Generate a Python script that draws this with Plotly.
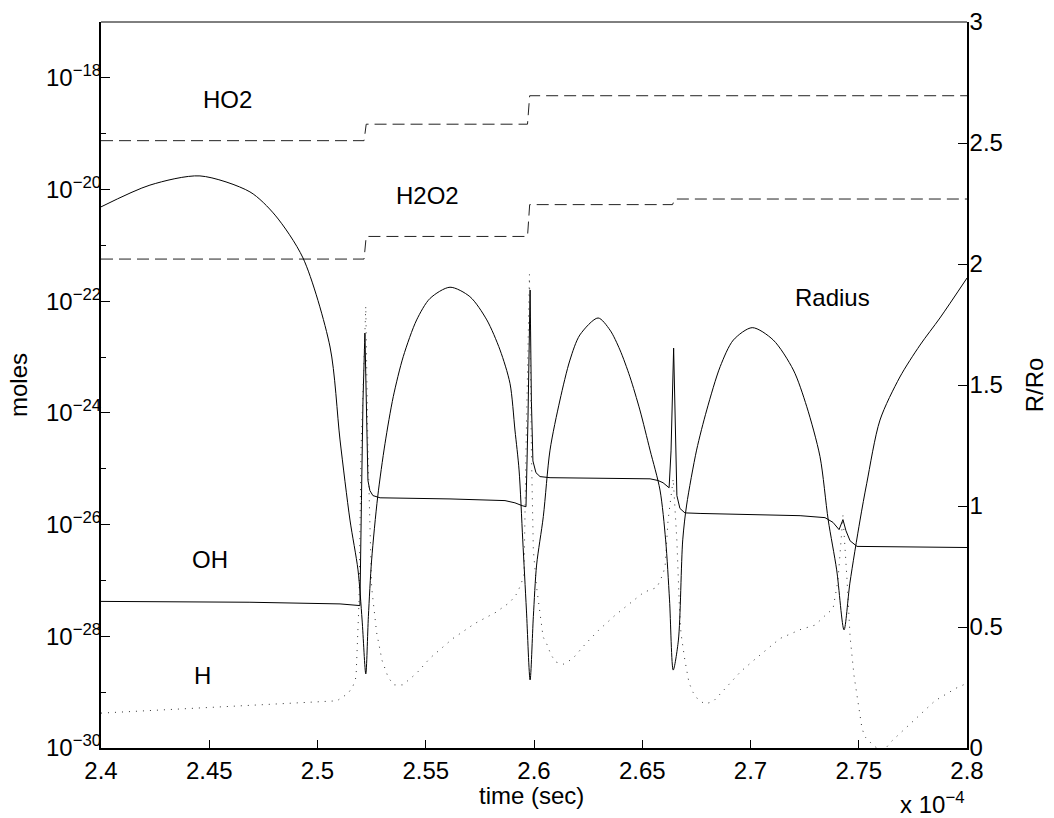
import numpy as np
import plotly.graph_objects as go

# time in units of 1e-4 s
# ---------------- HO2 (log10 moles) ----------------
ho2_t = [2.400, 2.5215, 2.5225, 2.5970, 2.5980, 2.800]
ho2_log10 = [-19.125, -19.125, -18.83, -18.83, -18.32, -18.32]

# ---------------- H2O2 (log10 moles) ----------------
h2o2_t = [2.400, 2.5215, 2.5225, 2.5970, 2.5980, 2.6640, 2.6650, 2.800]
h2o2_log10 = [-21.245, -21.245, -20.84, -20.84, -20.27, -20.27, -20.17, -20.17]

# ---------------- OH (log10 moles) ----------------
oh_t = [2.4000, 2.4688, 2.5104, 2.5173, 2.5196, 2.5203, 2.5210, 2.5219, 2.5226, 2.5233,
        2.5242, 2.5256, 2.5289, 2.5612, 2.5866, 2.5912, 2.5945, 2.5963, 2.5972, 2.5982,
        2.5988, 2.5995, 2.6009, 2.6028, 2.6074, 2.6536, 2.6573, 2.6596, 2.6624, 2.6633,
        2.6645, 2.6651, 2.6660, 2.6674, 2.6697, 2.6767, 2.7229, 2.7344, 2.7381, 2.7409,
        2.7427, 2.7441, 2.7460, 2.7492, 2.7691, 2.8000]
oh_log10 = [-27.375, -27.39, -27.42, -27.45, -27.45, -25.57, -23.79, -22.57, -24.14, -25.21,
            -25.39, -25.48, -25.52, -25.54, -25.57, -25.61, -25.66, -25.68, -24.14, -21.80,
            -23.79, -24.86, -25.07, -25.14, -25.16, -25.18, -25.21, -25.25, -25.34, -24.68,
            -22.84, -24.14, -25.48, -25.71, -25.79, -25.80, -25.84, -25.875, -25.96, -26.09,
            -25.91, -26.11, -26.29, -26.39, -26.40, -26.41]

# ---------------- H (log10 moles) ----------------
h_t = [2.4000, 2.4734, 2.5090, 2.5142, 2.5164, 2.5178, 2.5192, 2.5201, 2.5223, 2.5233,
       2.5250, 2.5273, 2.5298, 2.5327, 2.5353, 2.5394, 2.5458, 2.5520, 2.5625, 2.5727,
       2.5824, 2.5889, 2.5920, 2.5940, 2.5954, 2.5963, 2.5979, 2.5988, 2.5997, 2.6012,
       2.6028, 2.6042, 2.6063, 2.6078, 2.6101, 2.6135, 2.6179, 2.6239, 2.6299, 2.6374,
       2.6440, 2.6508, 2.6568, 2.6597, 2.6606, 2.6619, 2.6643, 2.6660, 2.6671, 2.6679,
       2.6697, 2.6716, 2.6734, 2.6759, 2.6790, 2.6827, 2.6882, 2.6955, 2.7021, 2.7090,
       2.7136, 2.7233, 2.7298, 2.7355, 2.7381, 2.7404, 2.7427, 2.7446, 2.7460, 2.7478,
       2.7497, 2.7515, 2.7529, 2.7566, 2.7598, 2.7621, 2.7654, 2.7714, 2.7783, 2.7852,
       2.7949, 2.8000]
h_log10 = [-29.375, -29.22, -29.155, -29.02, -28.89, -28.73, -27.36, -24.68, -22.09, -24.68,
           -27.12, -27.93, -28.43, -28.74, -28.87, -28.87, -28.66, -28.39, -28.04, -27.77,
           -27.57, -27.39, -27.24, -27.07, -26.89, -24.68, -21.52, -24.68, -26.46, -27.12,
           -27.625, -28.01, -28.17, -28.33, -28.46, -28.50, -28.40, -28.13, -27.89, -27.625,
           -27.42, -27.21, -27.125, -26.875, -26.72, -25.93, -25.18, -26.29, -27.42, -27.95,
           -28.43, -28.83, -29.00, -29.14, -29.21, -29.17, -28.94, -28.63, -28.41, -28.18,
           -28.04, -27.875, -27.80, -27.59, -27.51, -27.00, -25.84, -27.00, -28.01, -28.70,
           -29.23, -29.65, -29.80, -29.95, -30.04, -30.02, -29.87, -29.65, -29.39, -29.155,
           -28.93, -28.84]

# ---------------- Radius R/Ro (right axis) ----------------
r_t = [2.4000, 2.4226, 2.4457, 2.4688, 2.4804, 2.4933, 2.5058, 2.5104, 2.5150, 2.5187,
       2.5206, 2.5223,
       2.5235, 2.5250, 2.5278, 2.5312, 2.5350, 2.5396, 2.5458, 2.5520, 2.5612, 2.5704,
       2.5782, 2.5843, 2.5889, 2.5912, 2.5931, 2.5948, 2.5965, 2.5982,
       2.5997, 2.6012, 2.6043, 2.6074, 2.6120, 2.6166, 2.6212, 2.6296, 2.6351, 2.6397,
       2.6443, 2.6489, 2.6536, 2.6582, 2.6608, 2.6626, 2.6643,
       2.6667, 2.6687, 2.6705, 2.6751, 2.6798, 2.6860, 2.6921, 2.7008, 2.7105, 2.7198,
       2.7260, 2.7321, 2.7359, 2.7398, 2.7432,
       2.7459, 2.7506, 2.7537, 2.7598, 2.7690, 2.7783, 2.7875, 2.8000]
r_val = [2.236, 2.326, 2.364, 2.298, 2.202, 2.025, 1.657, 1.273, 0.942, 0.736,
         0.529, 0.306,
         0.543, 0.777, 1.038, 1.259, 1.452, 1.617, 1.769, 1.858, 1.904, 1.865,
         1.769, 1.645, 1.507, 1.314, 1.149, 0.860, 0.570, 0.281,
         0.543, 0.756, 0.956, 1.231, 1.438, 1.603, 1.707, 1.777, 1.727, 1.645,
         1.534, 1.397, 1.231, 1.066, 0.860, 0.612, 0.322,
         0.446, 0.860, 1.004, 1.231, 1.397, 1.576, 1.686, 1.737, 1.686, 1.562,
         1.410, 1.204, 0.942, 0.736, 0.488,
         0.681, 0.942, 1.094, 1.355, 1.533, 1.665, 1.777, 1.942]

# ---------------- ticks / labels ----------------
x_ticks = [2.4, 2.45, 2.5, 2.55, 2.6, 2.65, 2.7, 2.75, 2.8]
x_ticktext = ["2.4", "2.45", "2.5", "2.55", "2.6", "2.65", "2.7", "2.75", "2.8"]
y_major_exp = [-30, -28, -26, -24, -22, -20, -18]
y_minor_exp = [-29, -27, -25, -23, -21, -19, -17]
r_ticks = [0, 0.5, 1, 1.5, 2, 2.5, 3]
r_ticktext = ["0", "0.5", "1", "1.5", "2", "2.5", "3"]

labels = [  # (text, time, log10 moles)
    ("HO2", 2.4582, -18.39),
    ("H2O2", 2.5510, -20.11),
    ("Radius", 2.7381, -21.93),
    ("OH", 2.4503, -26.63),
    ("H", 2.4467, -28.70),
]

FONT = "Liberation Sans, Arial, Helvetica, sans-serif"
FS = 24

fig = go.Figure()
fig.add_trace(go.Scatter(x=ho2_t, y=np.power(10.0, ho2_log10), mode="lines",
                         line=dict(color="#222222", width=1, dash="12px,6px"), name="HO2"))
fig.add_trace(go.Scatter(x=h2o2_t, y=np.power(10.0, h2o2_log10), mode="lines",
                         line=dict(color="#222222", width=1, dash="12px,6px"), name="H2O2"))
fig.add_trace(go.Scatter(x=oh_t, y=np.power(10.0, oh_log10), mode="lines",
                         line=dict(color="black", width=1), name="OH"))
fig.add_trace(go.Scatter(x=h_t, y=np.power(10.0, h_log10), mode="lines",
                         line=dict(color="#333333", width=1, dash="1px,6px"), name="H"))
fig.add_trace(go.Scatter(x=r_t, y=r_val, mode="lines", yaxis="y2",
                         line=dict(color="black", width=1, shape="spline", smoothing=0.8),
                         name="Radius"))

for txt, tx, ty in labels:
    fig.add_annotation(x=tx, y=ty, xref="x", yref="y", text=txt, showarrow=False,
                       font=dict(family=FONT, size=FS, color="black"))

# x-axis label and exponent note
fig.add_annotation(x=0.497, y=-0.044, xref="paper", yref="paper", xanchor="center",
                   yanchor="top", text="time (sec)", showarrow=False,
                   font=dict(family=FONT, size=FS, color="black"))
fig.add_annotation(x=1.0, y=-0.053, xref="paper", yref="paper", xanchor="right",
                   yanchor="top", text="x 10<sup>−4</sup>", showarrow=False,
                   font=dict(family=FONT, size=FS, color="black"))

# thin top border of the axes box
fig.add_shape(type="line", xref="paper", yref="paper", x0=0, x1=1, y0=1, y1=1,
              line=dict(color="black", width=1))

fig.update_layout(
    width=1054, height=818,
    margin=dict(l=101, r=87, t=22, b=70, autoexpand=False),
    paper_bgcolor="white", plot_bgcolor="white",
    showlegend=False,
    font=dict(family=FONT, size=FS, color="black"),
    xaxis=dict(
        range=[2.4, 2.8], tickmode="array", tickvals=x_ticks, ticktext=x_ticktext,
        ticks="inside", ticklen=8, tickcolor="black", tickwidth=1,
        showline=True, linecolor="black", linewidth=2,
        showgrid=False, zeroline=False,
        tickfont=dict(size=FS),
    ),
    yaxis=dict(
        type="log", range=[-30, -17], tickmode="array",
        tickvals=[10.0 ** e for e in y_major_exp],
        ticktext=["10<sup>−%d</sup>" % (-e) for e in y_major_exp],
        ticks="inside", ticklen=9, tickcolor="black", tickwidth=1,
        minor=dict(tickmode="array", tickvals=[10.0 ** e for e in y_minor_exp],
                   ticks="inside", ticklen=5, tickcolor="black"),
        showline=True, linecolor="black", linewidth=2,
        showgrid=False, zeroline=False,
        ticklabelstandoff=-7,
        title=dict(text="moles", standoff=12, font=dict(size=FS)),
        tickfont=dict(size=FS),
    ),
    yaxis2=dict(
        overlaying="y", side="right", range=[0, 3], tickmode="array",
        tickvals=r_ticks, ticktext=r_ticktext,
        ticks="inside", ticklen=9, tickcolor="black", tickwidth=1,
        showline=True, linecolor="black", linewidth=1.5,
        showgrid=False, zeroline=False,
        ticklabelstandoff=-4,
        title=dict(text="R/Ro", standoff=24, font=dict(size=FS)),
        tickfont=dict(size=FS),
    ),
)

fig.write_html("out.html")
